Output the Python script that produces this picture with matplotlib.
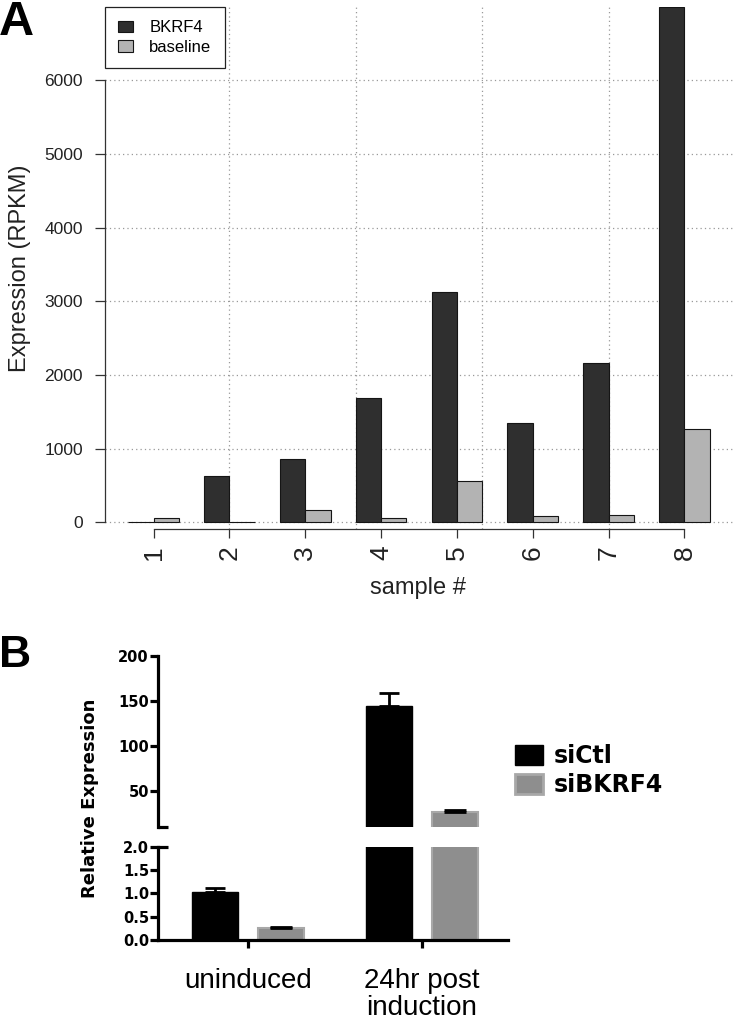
import numpy as np
import matplotlib
matplotlib.use("Agg")
import matplotlib.pyplot as plt
from matplotlib.patches import Patch

# panel A data (RPKM per sample)
samples = ['1', '2', '3', '4', '5', '6', '7', '8']
bkrf4 = [5, 630, 866, 1690, 3128, 1346, 2156, 6995]
baseline = [65, 8, 167, 56, 565, 90, 104, 1269]
yticks_a = [0, 1000, 2000, 3000, 4000, 5000, 6000]

# panel B data (relative expression, mean and upper error)
conditions = ['uninduced', '24hr post\ninduction']
si_ctl = [1.02, 144.4]
si_ctl_err = [0.10, 14.0]
si_bkrf4 = [0.25, 26.7]
si_bkrf4_err = [0.03, 1.5]

W, H = 733, 1026
fig = plt.figure(figsize=(W / 100, H / 100), dpi=100)
ARIAL = 'Liberation Sans'


def px_axes(l, t, r, b):
    return fig.add_axes([l / W, (H - b) / H, (r - l) / W, (b - t) / H])


# ---------------- panel A ----------------
ax = px_axes(105, 7, 733, 529)
n = len(samples)
grp = np.arange(n) * 3
ax.bar(grp + 1.5, bkrf4, width=1, color='#2f2f2f', edgecolor='#151515', lw=0.8, zorder=3, label='BKRF4')
ax.bar(grp + 2.5, baseline, width=1, color='#b3b3b3', edgecolor='#151515', lw=0.8, zorder=3, label='baseline')
ax.set_xlim(0.08, 24.92)
ax.set_ylim(-91, 6995)

for y in yticks_a:
    ax.axhline(y, color='#999999', ls=(0, (1, 2.5)), lw=0.9, zorder=1)
for x in [5, 10, 15, 20]:
    ax.axvline(x, color='#999999', ls=(0, (1, 2.5)), lw=0.9, zorder=1)

for s in ['top', 'right']:
    ax.spines[s].set_visible(False)
ax.spines['left'].set_bounds(0, 6000)
ax.spines['bottom'].set_bounds(2, 23)
for s in ['left', 'bottom']:
    ax.spines[s].set_color('#333333')
    ax.spines[s].set_linewidth(0.9)

ax.set_yticks(yticks_a)
ax.set_yticklabels([str(v) for v in yticks_a], fontfamily=ARIAL, fontsize=12.5, color='#222222')
ax.set_xticks(grp + 2)
ax.set_xticklabels(samples, rotation=90, fontfamily=ARIAL, fontsize=19, color='#222222')
ax.tick_params(axis='y', length=7, width=0.9, color='#333333', pad=9)
ax.tick_params(axis='x', length=6.5, width=0.9, color='#333333', pad=5)

ax.set_ylabel('Expression (RPKM)', fontfamily=ARIAL, fontsize=17, color='#222222')
ax.yaxis.set_label_coords(-0.135, 0.5)
ax.yaxis.label.set_va('center')
ax.set_xlabel('sample #', fontfamily=ARIAL, fontsize=17, color='#222222')
ax.xaxis.set_label_coords(0.498, -0.113)
ax.xaxis.label.set_va('center')

leg = ax.legend(loc='upper left', bbox_to_anchor=(0, 1), borderaxespad=0, fancybox=False,
                edgecolor='#222222', framealpha=1, prop={'family': ARIAL, 'size': 12},
                handlelength=0.85, handleheight=0.7, handletextpad=1.0, labelspacing=0.25,
                borderpad=0.8)
leg.get_frame().set_linewidth(0.9)

# ---------------- panel B ----------------
axt = px_axes(158, 655.7, 508, 826.7)
axb = px_axes(158, 846.7, 508, 940)
xb = np.arange(len(conditions))
bw = 0.264
off = 0.188
LW = 2.3
BOLD = {'family': 'DejaVu Sans', 'weight': 'bold'}

for a in (axt, axb):
    a.bar(xb - off, si_ctl, width=bw, color='black', edgecolor='black', lw=1, zorder=2)
    a.bar(xb + off, si_bkrf4, width=bw, color='#8e8e8e', edgecolor='#a8a8a8', lw=1.5, zorder=2)
    a.errorbar(xb - off, si_ctl, yerr=[np.zeros(2), si_ctl_err], fmt='none', ecolor='black',
               elinewidth=2, capsize=7.5, capthick=2, zorder=3)
    a.errorbar(xb + off, si_bkrf4, yerr=[np.zeros(2), si_bkrf4_err], fmt='none', ecolor='black',
               elinewidth=2, capsize=8, capthick=2, zorder=3)
    a.set_xlim(-0.517, 1.494)
    for s in ['top', 'right']:
        a.spines[s].set_visible(False)
    a.spines['left'].set_linewidth(LW)
    a.tick_params(axis='y', length=5.5, width=LW, pad=1)

axt.set_ylim(10, 200)
axt.set_yticks([50, 100, 150, 200])
axt.set_yticklabels(['50', '100', '150', '200'], fontdict=dict(size=10.5, **BOLD))
axt.spines['bottom'].set_visible(False)
axt.set_xticks([])
axt.plot([0, 0.028], [0, 0], transform=axt.transAxes, color='black', lw=LW, clip_on=False,
         solid_capstyle='butt')

axb.set_ylim(0, 2.0)
axb.set_yticks([0, 0.5, 1.0, 1.5, 2.0])
axb.set_yticklabels(['0.0', '0.5', '1.0', '1.5', '2.0'], fontdict=dict(size=10.5, **BOLD))
axb.spines['bottom'].set_linewidth(LW)
axb.set_xticks(xb)
axb.set_xticklabels(conditions, fontfamily=ARIAL, fontsize=20, linespacing=1.08)
axb.tick_params(axis='x', length=6, width=LW, pad=14)
axb.plot([0, 0.028], [1, 1], transform=axb.transAxes, color='black', lw=LW, clip_on=False,
         solid_capstyle='butt')

fig.text(90 / W, (H - 798) / H, 'Relative Expression', rotation=90, ha='center', va='center',
         fontdict=dict(size=13, **BOLD))

handles = [Patch(facecolor='black', edgecolor='black', label='siCtl'),
           Patch(facecolor='#8e8e8e', edgecolor='#a8a8a8', lw=2, label='siBKRF4')]
fig.legend(handles=handles, loc='upper left', bbox_to_anchor=(513 / W, (H - 742) / H),
           frameon=False, prop=dict(size=17, **BOLD), handlelength=1.18, handleheight=0.95,
           handletextpad=0.45, labelspacing=0.2, borderpad=0.1, borderaxespad=0)

# panel letters
fig.text(-1 / W, (H - 35) / H, 'A', fontfamily=ARIAL, fontweight='bold', fontsize=35, va='baseline')
fig.text(-1 / W, (H - 667) / H, 'B', fontfamily=ARIAL, fontweight='bold', fontsize=32, va='baseline')

fig.savefig('out.png', dpi=100)
